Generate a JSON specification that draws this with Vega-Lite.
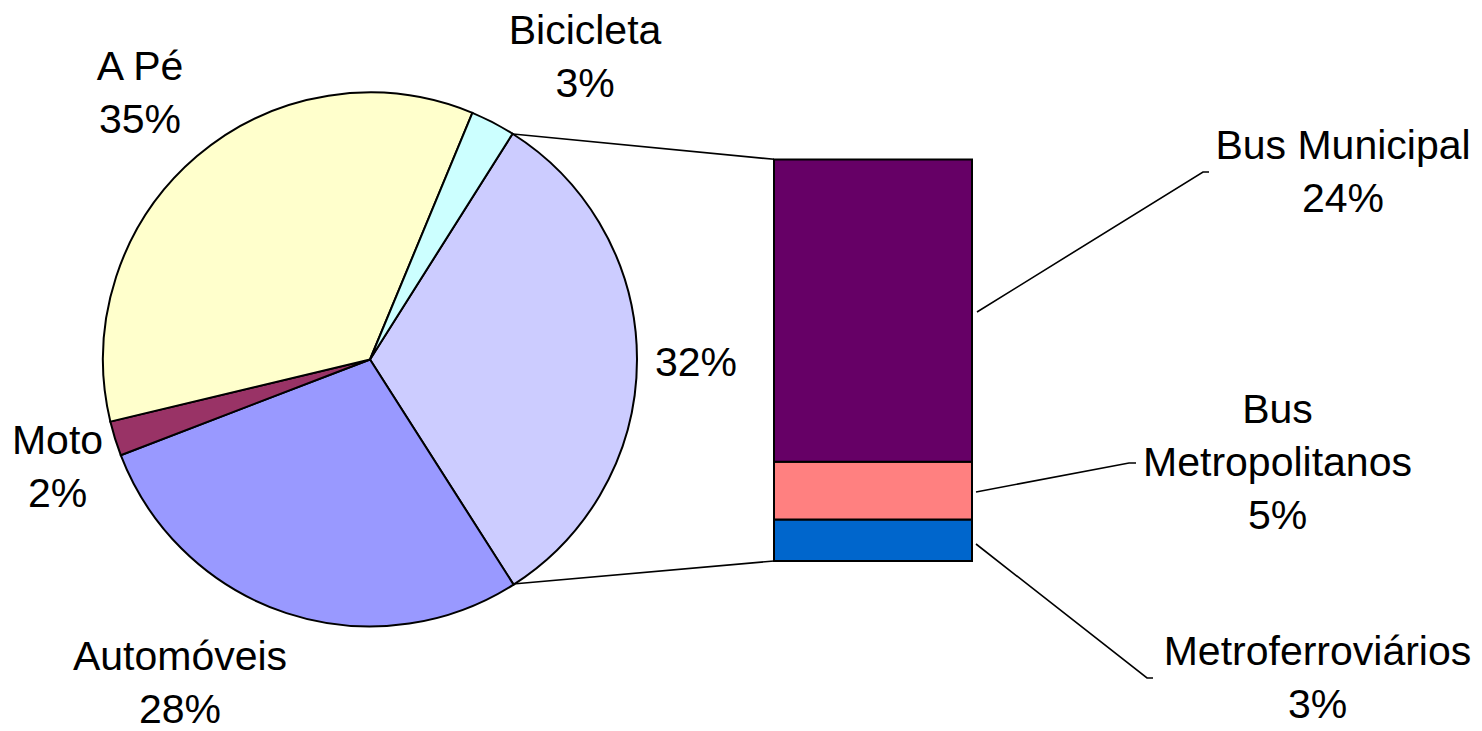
{
  "$schema": "https://vega.github.io/schema/vega-lite/v6.json",
  "width": 1482,
  "height": 731,
  "padding": 0,
  "autosize": {"type": "none"},
  "background": "white",
  "config": {"view": {"stroke": null}},
  "datasets": {
    "modos": [
      {"modo": "Transporte Coletivo", "valor": 32.0, "ordem": 1},
      {"modo": "Automóveis", "valor": 28.2, "ordem": 2},
      {"modo": "Moto", "valor": 2.1, "ordem": 3},
      {"modo": "A Pé", "valor": 35.0, "ordem": 4},
      {"modo": "Bicicleta", "valor": 2.7, "ordem": 5}
    ],
    "coletivo": [
      {"modo": "Metroferroviários", "valor": 3.3, "ordem": 1},
      {"modo": "Bus Metropolitanos", "valor": 4.6, "ordem": 2},
      {"modo": "Bus Municipal", "valor": 24.1, "ordem": 3}
    ],
    "rotulos": [
      {"texto": "Bicicleta\n3%", "x": 585, "y": 43.5},
      {"texto": "A Pé\n35%", "x": 140, "y": 79.5},
      {"texto": "32%", "x": 696, "y": 376},
      {"texto": "Moto\n2%", "x": 57.5, "y": 453.5},
      {"texto": "Automóveis\n28%", "x": 180, "y": 670},
      {"texto": "Bus Municipal\n24%", "x": 1343, "y": 158.5},
      {"texto": "Bus\nMetropolitanos\n5%", "x": 1277.5, "y": 422.5},
      {"texto": "Metroferroviários\n3%", "x": 1317.5, "y": 665}
    ],
    "guias": [
      {"linha": "topo", "ponto": 1, "x": 513, "y": 134},
      {"linha": "topo", "ponto": 2, "x": 774, "y": 159.3},
      {"linha": "base", "ponto": 1, "x": 513, "y": 584},
      {"linha": "base", "ponto": 2, "x": 774, "y": 561},
      {"linha": "municipal", "ponto": 1, "x": 977, "y": 312},
      {"linha": "municipal", "ponto": 2, "x": 1203, "y": 172},
      {"linha": "municipal", "ponto": 3, "x": 1209, "y": 172},
      {"linha": "metropolitanos", "ponto": 1, "x": 976, "y": 492},
      {"linha": "metropolitanos", "ponto": 2, "x": 1129, "y": 463},
      {"linha": "metropolitanos", "ponto": 3, "x": 1136, "y": 463},
      {"linha": "metroferro", "ponto": 1, "x": 976, "y": 544},
      {"linha": "metroferro", "ponto": 2, "x": 1147, "y": 678},
      {"linha": "metroferro", "ponto": 3, "x": 1153, "y": 678}
    ]
  },
  "layer": [
    {
      "layer": [
        {
          "data": {"name": "modos"},
          "mark": {"type": "arc", "outerRadius": 267, "stroke": "black", "strokeWidth": 2},
          "encoding": {
            "theta": {"field": "valor", "type": "quantitative", "stack": true, "scale": {"domain": [0, 100], "range": [0.5632, 6.8464]}},
            "order": {"field": "ordem", "type": "quantitative"},
            "color": {
              "field": "modo", "type": "nominal", "legend": null,
              "scale": {
                "domain": ["Transporte Coletivo", "Automóveis", "Moto", "A Pé", "Bicicleta"],
                "range": ["#CCCCFF", "#9999FF", "#993366", "#FFFFCC", "#CCFFFF"]
              }
            },
            "x": {"datum": 370, "type": "quantitative", "axis": null, "scale": {"domain": [0, 1482], "nice": false, "zero": false}},
            "y": {"datum": 359.5, "type": "quantitative", "axis": null, "scale": {"domain": [0, 731], "reverse": true, "nice": false, "zero": false}}
          }
        },
        {
          "data": {"name": "guias"},
          "mark": {"type": "line", "color": "black", "strokeWidth": 1.6},
          "encoding": {
            "x": {"field": "x", "type": "quantitative", "axis": null, "scale": {"domain": [0, 1482], "nice": false, "zero": false}},
            "y": {"field": "y", "type": "quantitative", "axis": null, "scale": {"domain": [0, 731], "reverse": true, "nice": false, "zero": false}},
            "detail": {"field": "linha", "type": "nominal"},
            "order": {"field": "ponto", "type": "quantitative"}
          }
        },
        {
          "data": {"name": "rotulos"},
          "mark": {"type": "text", "font": "Liberation Sans", "fontSize": 41, "lineHeight": 53, "lineBreak": "\n", "align": "center", "baseline": "alphabetic", "color": "black"},
          "encoding": {
            "x": {"field": "x", "type": "quantitative", "axis": null, "scale": {"domain": [0, 1482], "nice": false, "zero": false}},
            "y": {"field": "y", "type": "quantitative", "axis": null, "scale": {"domain": [0, 731], "reverse": true, "nice": false, "zero": false}},
            "text": {"field": "texto", "type": "nominal"}
          }
        }
      ]
    },
    {
      "data": {"name": "coletivo"},
      "transform": [
        {"stack": "valor", "groupby": [], "sort": [{"field": "ordem", "order": "ascending"}], "as": ["base", "topo"]}
      ],
      "mark": {"type": "bar", "stroke": "black", "strokeWidth": 2},
      "encoding": {
        "x": {"datum": 774, "type": "quantitative", "axis": null, "scale": {"domain": [0, 1482], "nice": false, "zero": false}},
        "x2": {"datum": 972},
        "y": {"field": "base", "type": "quantitative", "axis": null, "scale": {"domain": [-13.546, 44.701], "nice": false, "zero": false}},
        "y2": {"field": "topo"},
        "color": {
          "field": "modo", "type": "nominal", "legend": null,
          "scale": {
            "domain": ["Bus Municipal", "Bus Metropolitanos", "Metroferroviários"],
            "range": ["#660066", "#FF8080", "#0066CC"]
          }
        }
      }
    }
  ],
  "resolve": {"scale": {"y": "independent", "color": "independent"}}
}
